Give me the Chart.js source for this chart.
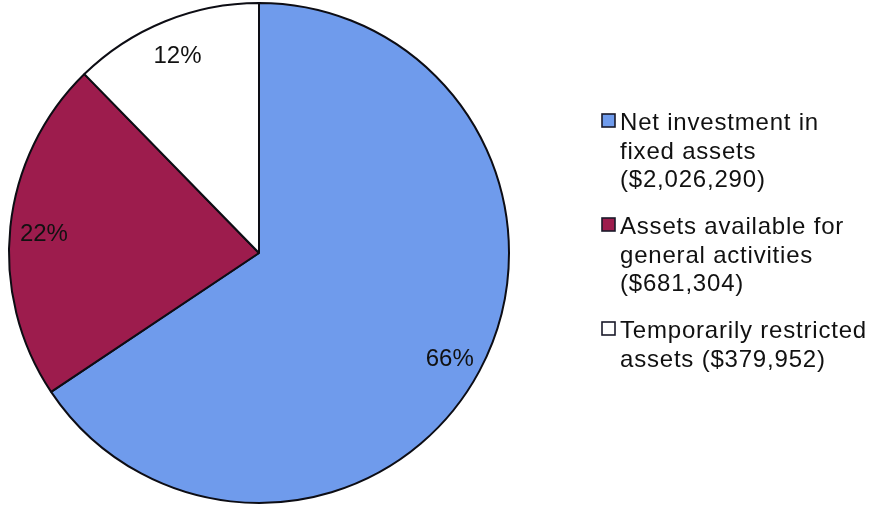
<!DOCTYPE html>
<html>
<head>
<meta charset="utf-8">
<script src="https://cdn.jsdelivr.net/npm/chart.js@4/dist/chart.umd.min.js"></script>
<style>
  html, body { margin: 0; padding: 0; background: #ffffff; }
  #wrap { width: 870px; height: 508px; position: relative; }
</style>
</head>
<body>
<div id="wrap"><canvas id="chart" width="870" height="508"></canvas></div>
<script>
// Net assets by category
const categories = [
  "Net investment in\nfixed assets\n({v})",
  "Assets available for\ngeneral activities\n({v})",
  "Temporarily restricted\nassets ({v})"
];
const values = [2026290, 681304, 379952];
const colors = ["#6f9bec", "#9d1c4d", "#ffffff"];

const FONT = "'Liberation Sans', Arial, sans-serif";
const total = values.reduce((a, b) => a + b, 0);
const fmt = v => "$" + v.toLocaleString("en-US");

// Percent labels placed inside each slice near the rim
const sliceLabels = {
  id: "sliceLabels",
  afterDatasetsDraw(chart) {
    const ctx = chart.ctx;
    const meta = chart.getDatasetMeta(0);
    ctx.save();
    ctx.font = "24px " + FONT;
    ctx.fillStyle = "#111111";
    ctx.textAlign = "center";
    ctx.textBaseline = "middle";
    meta.data.forEach((arc, i) => {
      const p = arc.getProps(["x", "y", "startAngle", "endAngle", "outerRadius"], true);
      const mid = (p.startAngle + p.endAngle) / 2;
      const r = p.outerRadius * 0.865;
      const pct = Math.round(values[i] / total * 100) + "%";
      ctx.fillText(pct, p.x + Math.cos(mid) * r, p.y + Math.sin(mid) * r + 4);
    });
    ctx.restore();
  }
};

// Legend on the right: square marker plus wrapped label lines
const sideLegend = {
  id: "sideLegend",
  afterDraw(chart) {
    const ctx = chart.ctx;
    ctx.save();
    ctx.font = "24px " + FONT;
    ctx.letterSpacing = "0.8px";
    ctx.textAlign = "left";
    ctx.textBaseline = "alphabetic";
    const boxX = 602, textX = 620, lineH = 28.5, groupGap = 47;
    let y = 130;
    categories.forEach((cat, i) => {
      const lines = cat.replace("{v}", fmt(values[i])).split("\n");
      ctx.fillStyle = colors[i];
      ctx.fillRect(boxX, y - 16, 13, 13);
      ctx.strokeStyle = "#1a1a2a";
      ctx.lineWidth = 1.6;
      ctx.strokeRect(boxX, y - 16, 13, 13);
      ctx.fillStyle = "#111111";
      lines.forEach((ln, k) => ctx.fillText(ln, textX, y + k * lineH));
      y += (lines.length - 1) * lineH + groupGap;
    });
    ctx.restore();
  }
};

new Chart(document.getElementById("chart"), {
  type: "pie",
  data: {
    labels: categories.map((c, i) => c.replace("{v}", fmt(values[i])).replace(/\n/g, " ")),
    datasets: [{
      data: values,
      backgroundColor: colors,
      borderColor: "#0d0d14",
      borderWidth: 2
    }]
  },
  options: {
    responsive: false,
    animation: false,
    layout: { padding: { left: 8, right: 360, top: 2, bottom: 4 } },
    plugins: {
      legend: { display: false },
      tooltip: { enabled: false }
    }
  },
  plugins: [sliceLabels, sideLegend]
});
</script>
</body>
</html>
